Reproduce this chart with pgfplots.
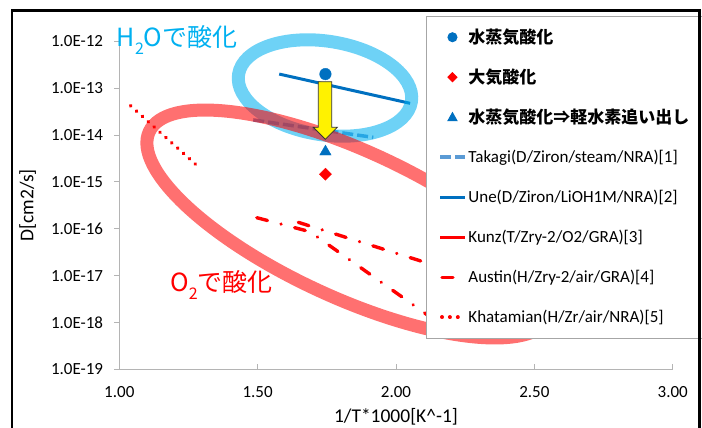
\documentclass[border=0pt]{standalone}
\usepackage{fontspec}
\setmainfont{Carlito}
\newfontfamily\cjk{Noto Sans CJK JP}
\usepackage{pgfplots}
\pgfplotsset{compat=1.18}
\definecolor{c1}{RGB}{0,112,192}
\definecolor{tk}{RGB}{91,155,213}
\definecolor{sky}{RGB}{0,176,240}
\definecolor{axg}{RGB}{180,180,180}
\definecolor{lg}{RGB}{166,166,166}
\pgfplotsset{
  lgline/.style={legend image code/.code={\draw[##1] (0bp,0bp) -- (25bp,0bp);}},
  lglineB/.style={legend image code/.code={\path[draw=none,fill=none] (0bp,0bp) -- (25bp,0bp); \draw[##1] (1.5bp,0bp) -- (25bp,0bp);}},
}
\begin{document}
\begin{tikzpicture}
\useasboundingbox (0bp,0bp) rectangle (702bp,428bp);
\begin{axis}[
  at={(119.3bp,58.7bp)}, anchor=south west,
  scale only axis, width=553.4bp, height=328bp,
  xmin=1, xmax=3, ymode=log, ymin=1e-19, ymax=1e-12,
  axis x line*=bottom, axis y line*=left,
  axis line style={draw=axg, line width=1bp, -},
  xtick={1,1.5,2,2.5,3}, xticklabels={1.00,1.50,2.00,2.50,3.00},
  ytick={1e-19,1e-18,1e-17,1e-16,1e-15,1e-14,1e-13,1e-12},
  yticklabels={1.0E-19,1.0E-18,1.0E-17,1.0E-16,1.0E-15,1.0E-14,1.0E-13,1.0E-12},
  yminorticks=false, xminorticks=false,
  major tick length=5bp, tick style={draw=axg, line width=1bp},
  every major y tick/.append style={xshift=-5bp},
  tick label style={font=\fontsize{17bp}{20bp}\selectfont},
  xticklabel style={anchor=base, yshift=-28.2bp},
  yticklabel style={anchor=east, inner sep=0bp, xshift=-16bp},
  xlabel={1/T*1000[K\textasciicircum-1]},
  ylabel={D[cm2/s]},
  xlabel style={at={(axis description cs:0.5,-0.1607)}, anchor=base, font=\fontsize{19.5bp}{24bp}\selectfont},
  ylabel style={at={(axis description cs:-0.1554,0.5)}, anchor=base, font=\fontsize{19.5bp}{24bp}\selectfont},
  clip=false,
  legend cell align=left,
  legend style={at={(0.5537,1.078)}, anchor=north west, draw=lg, line width=1bp, fill=white,
    inner xsep=12.5bp, inner ysep=1bp, font=\fontsize{17bp}{20bp}\selectfont,
    nodes={inner xsep=1bp, inner ysep=0bp, minimum height=40bp}, row sep=0bp},
]
% markers
\addplot[only marks, mark=*, mark size=5.8bp, mark options={draw=c1, fill=c1},
  legend image code/.code={\path[draw=none,fill=none] (0bp,0bp) -- (25bp,0bp); \fill[c1] (12bp,0bp) circle (4.5bp);}]
  coordinates {(1.745,2.0e-13)};
\addlegendentry{\cjk\bfseries 水蒸気酸化}
\addplot[only marks, mark=square*, mark size=4.3bp, mark options={draw=red, fill=red, rotate=45},
  legend image code/.code={\path[draw=none,fill=none] (0bp,0bp) -- (25bp,0bp); \fill[red] (12bp,4.5bp) -- (16.5bp,0bp) -- (12bp,-4.5bp) -- (7.5bp,0bp) -- cycle;}]
  coordinates {(1.745,1.46e-15)};
\addlegendentry{\cjk\bfseries 大気酸化}
\addplot[only marks, mark=triangle*, mark size=6.6bp, mark options={draw=c1, fill=c1},
  legend image code/.code={\path[draw=none,fill=none] (0bp,0bp) -- (25bp,0bp); \fill[c1] (7.5bp,-3.5bp) -- (16.5bp,-3.5bp) -- (12bp,4.5bp) -- cycle;}]
  coordinates {(1.745,4.4e-15)};
\addlegendentry{\cjk\bfseries 水蒸気酸化⇒軽水素追い出し}
% lines
\addplot[tk, line width=3.5bp, dash pattern=on 11bp off 4bp, mark=none, lgline]
  coordinates {(1.484,2.1e-14) (1.918,8.9e-15)};
\addlegendentry{Takagi(D/Ziron/steam/NRA)[1]}
\addplot[c1, line width=3bp, mark=none, lgline]
  coordinates {(1.578,2.0e-13) (2.051,4.75e-14)};
\addlegendentry{Une(D/Ziron/LiOH1M/NRA)[2]}
\addlegendimage{red, line width=3bp, lgline}
\addlegendentry{Kunz(T/Zry-2/O2/GRA)[3]}
\addplot[red, line width=3.4bp, line cap=round, dash pattern=on 11bp off 14bp on 0.1bp off 14bp, mark=none, lglineB]
  coordinates {(1.647,1.37e-16) (2.105,1.92e-17) (2.2,1.28e-17)};
\addlegendentry{Austin(H/Zry-2/air/GRA)[4]}
\addplot[red, line width=3.9bp, line cap=round, dash pattern=on 0.1bp off 7.8bp, mark=none, lglineB]
  coordinates {(1.041,4.2e-14) (1.294,1.9e-15)};
\addlegendentry{Khatamian(H/Zr/air/NRA)[5]}
\addplot[red, line width=3.4bp, line cap=round, dash pattern=on 11bp off 14bp on 0.1bp off 14bp, mark=none, forget plot]
  coordinates {(1.497,1.72e-16) (1.689,8.65e-17) (2.105,1.57e-18) (2.2,6.2e-19)};
% annotations
\pgfplotsextra{%
\begin{scope}[shift={(rel axis cs:0,0)}]
  \begin{scope}[shift={(205.7bp,281.3bp)}, rotate=-9]
    \draw[sky, opacity=0.57, line width=13bp] (0bp,0bp) ellipse [x radius=87.5bp, y radius=46.8bp];
  \end{scope}
  \begin{scope}[shift={(230.7bp,145.3bp)}, rotate=-24.7]
    \draw[red, opacity=0.56, line width=13bp] (0bp,0bp) ellipse [x radius=221bp, y radius=73.5bp];
  \end{scope}
  \filldraw[fill=yellow, draw=black!80, line width=0.8bp] (199bp,287.6bp) -- (212.4bp,287.6bp) -- (212.4bp,242bp) -- (218bp,242bp) -- (206bp,230bp) -- (194bp,242bp) -- (199bp,242bp) -- cycle;
  \node[anchor=base west, inner sep=0pt, text=sky, font=\cjk\fontsize{25bp}{30bp}\selectfont] at (-2.6bp,322.8bp) {H\raisebox{-0.3em}{\fontsize{16bp}{16bp}\selectfont 2}Oで酸化};
  \node[anchor=base west, inner sep=0pt, text=red, font=\cjk\fontsize{25bp}{30bp}\selectfont] at (50.7bp,77.8bp) {O\raisebox{-0.3em}{\fontsize{16bp}{16bp}\selectfont 2}で酸化};
\end{scope}%
}
\end{axis}
\draw[line width=2.5bp] (12bp,-3bp) -- (12bp,417.5bp) -- (699.5bp,417.5bp) -- (699.5bp,-3bp);
\end{tikzpicture}
\end{document}
